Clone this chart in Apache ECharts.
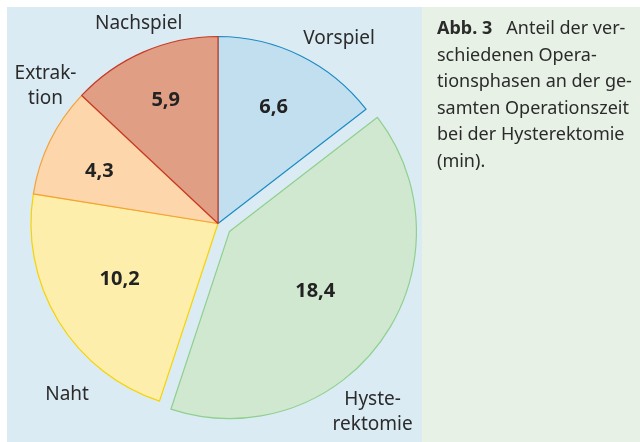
<!DOCTYPE html>
<html>
<head>
    <meta charset="utf-8">
    <script src="https://cdn.jsdelivr.net/npm/echarts@6/dist/echarts.min.js"></script>
    <style>
        *{
            margin:0;
            padding:0;
        }
        body{ background:#fff; }
    </style>
</head>
<body>
    <div id="main" style="width: 640px;height:442px;"></div>
    <script type="text/javascript">

    // Operationsphasen, im Uhrzeigersinn ab 12 Uhr
    var phasen = ['Vorspiel', 'Hysterektomie', 'Naht', 'Extraktion', 'Nachspiel'];
    var minuten = [6.6, 18.4, 10.2, 4.3, 5.9];
    var beschriftung = ['Vorspiel', 'Hyste-\nrektomie', 'Naht', 'Extrak-\ntion', 'Nachspiel'];

    var fuellung = ['#c2dff0', '#d0e8d0', '#fdeeab', '#fdd6ac', '#e09e85'];
    var rand = ['#1b8cc2', '#8fd08f', '#f7d300', '#f3a23a', '#c63a26'];

    // Verschiebung der Beschriftungen gegenüber der Standardlage
    var wertVersatz = [[13, -30], [7, 4], [-16, 6], [-32, -10], [-14, -35]];
    var nameVersatz = [[24, 13], [-25, 62], [37, 57], [25, -40], [8, 2]];

    var mitte = [218, 223.5];
    var r = 187;

    var myChart = echarts.init(document.getElementById('main'));

    var textFont = '"Noto Sans", "DejaVu Sans", sans-serif';

    myChart.setOption({
        animation: false,
        graphic: [
            { type: 'rect', shape: { x: 7, y: 7, width: 415, height: 440 }, style: { fill: '#dbebf4' }, z: -10 },
            { type: 'rect', shape: { x: 422, y: 7, width: 220, height: 440 }, style: { fill: '#e7f1e5' }, z: -10 },
            {
                type: 'text',
                left: 437,
                top: 16,
                style: {
                    text: '{b|Abb. 3}   Anteil der ver-\nschiedenen Opera-\ntionsphasen an der ge-\nsamten Operationszeit\nbei der Hysterektomie\n(min).',
                    font: '18px ' + textFont,
                    fill: '#2b2b2b',
                    lineHeight: 26.5,
                    rich: {
                        b: { font: 'bold 18px ' + textFont, fill: '#2b2b2b', lineHeight: 26.5 }
                    }
                }
            }
        ],
        series: [
            {
                type: 'pie',
                center: mitte,
                radius: [0, r],
                startAngle: 90,
                clockwise: true,
                selectedMode: 'single',
                selectedOffset: 14,
                avoidLabelOverlap: false,
                emphasis: { disabled: true },
                label: {
                    show: true,
                    position: 'inside',
                    fontFamily: textFont,
                    fontWeight: 'bold',
                    fontSize: 20,
                    color: '#222',
                    formatter: function (p) {
                        return p.value.toFixed(1).replace('.', ',');
                    }
                },
                labelLine: { show: false },
                labelLayout: function (p) {
                    var v = wertVersatz[p.dataIndex];
                    return { dx: v[0], dy: v[1] };
                },
                data: phasen.map(function (name, i) {
                    return {
                        name: name,
                        value: minuten[i],
                        selected: name === 'Hysterektomie',
                        itemStyle: { color: fuellung[i], borderColor: rand[i], borderWidth: 1.2 }
                    };
                })
            },
            {
                type: 'pie',
                center: mitte,
                radius: [r, r + 60],
                startAngle: 90,
                clockwise: true,
                silent: true,
                avoidLabelOverlap: false,
                itemStyle: { color: 'rgba(0,0,0,0)' },
                label: {
                    show: true,
                    position: 'inside',
                    fontFamily: textFont,
                    fontSize: 19,
                    lineHeight: 25,
                    color: '#2b2b2b',
                    formatter: function (p) {
                        return beschriftung[p.dataIndex];
                    }
                },
                labelLine: { show: false },
                labelLayout: function (p) {
                    var v = nameVersatz[p.dataIndex];
                    return { dx: v[0], dy: v[1] };
                },
                data: phasen.map(function (name, i) {
                    return { name: name, value: minuten[i] };
                })
            }
        ]
    });
</script>
</body>
</html>
